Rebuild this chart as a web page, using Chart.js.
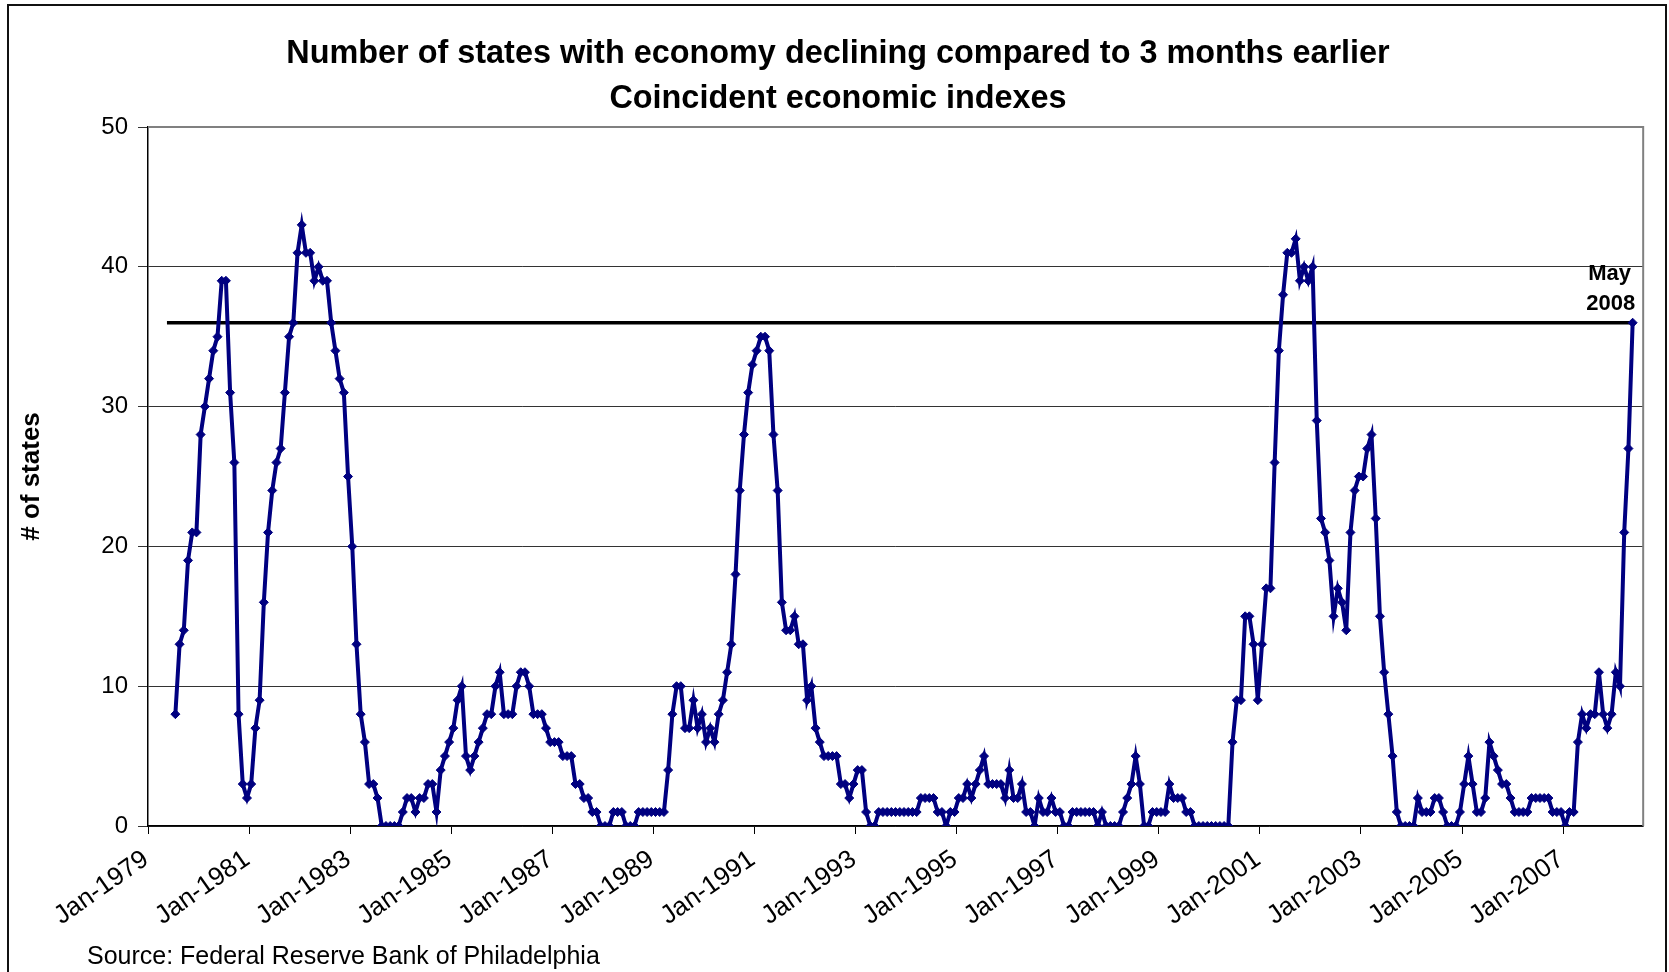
<!DOCTYPE html>
<html>
<head>
<meta charset="utf-8">
<script src="https://cdn.jsdelivr.net/npm/chart.js@4.4.1/dist/chart.umd.min.js"></script>
<style>
  html, body { margin: 0; padding: 0; background: #fff; width: 1669px; height: 972px; overflow: hidden; }
  #wrap { position: relative; width: 1669px; height: 972px; }
  #chart { position: absolute; left: 0; top: 0; }
  .frame { position: absolute; left: 7px; top: 4px; width: 1660px; height: 1000px;
           border: 2px solid #111; box-sizing: border-box; pointer-events: none; }
  .title { position: absolute; left: 0; top: 30px; width: 1676px; text-align: center;
           font: bold 32.4px "Liberation Sans", Arial, sans-serif; line-height: 45px; color: #000; }
  .source { position: absolute; left: 87px; top: 940px;
            font: 25px "Liberation Sans", Arial, sans-serif; line-height: 30px; color: #000; }
</style>
</head>
<body>
<div id="wrap">
  <canvas id="chart" width="1669" height="972"></canvas>
  <div class="title">Number of states with economy declining compared to 3 months earlier<br>Coincident economic indexes</div>
  <div class="source">Source: Federal Reserve Bank of Philadelphia</div>
  <div class="frame"></div>
</div>
<script>
// Monthly category axis: Jan-1979 through Jul-2008
const monthNames = ['Jan','Feb','Mar','Apr','May','Jun','Jul','Aug','Sep','Oct','Nov','Dec'];
const axisStartYear = 1979;
const axisMonthCount = 355;
const months = [];
for (let i = 0; i < axisMonthCount; i++) {
  months.push(monthNames[i % 12] + '-' + (axisStartYear + Math.floor(i / 12)));
}

// Labels shown under the axis (every two years)
const tickLabels = ['Jan-1979','Jan-1981','Jan-1983','Jan-1985','Jan-1987','Jan-1989','Jan-1991',
                    'Jan-1993','Jan-1995','Jan-1997','Jan-1999','Jan-2001','Jan-2003','Jan-2005','Jan-2007'];

// Number of states whose coincident index fell vs. 3 months earlier, Jul-1979 .. May-2008
const seriesStart = 'Jul-1979';
const statesDeclining = [
  8, 13, 14, 19, 21, 21,                          // 1979 (Jul-Dec)
  28, 30, 32, 34, 35, 39, 39, 31, 26, 8, 3, 2,    // 1980
  3, 7, 9, 16, 21, 24, 26, 27, 31, 35, 36, 41,    // 1981
  43, 41, 41, 39, 40, 39, 39, 36, 34, 32, 31, 25, // 1982
  20, 13, 8, 6, 3, 3, 2, 0, 0, 0, 0, 0,           // 1983
  1, 2, 2, 1, 2, 2, 3, 3, 1, 4, 5, 6,             // 1984
  7, 9, 10, 5, 4, 5, 6, 7, 8, 8, 10, 11,          // 1985
  8, 8, 8, 10, 11, 11, 10, 8, 8, 8, 7, 6,         // 1986
  6, 6, 5, 5, 5, 3, 3, 2, 2, 1, 1, 0,             // 1987
  0, 0, 1, 1, 1, 0, 0, 0, 1, 1, 1, 1,             // 1988
  1, 1, 1, 4, 8, 10, 10, 7, 7, 9, 7, 8,           // 1989
  6, 7, 6, 8, 9, 11, 13, 18, 24, 28, 31, 33,      // 1990
  34, 35, 35, 34, 28, 24, 16, 14, 14, 15, 13, 13, // 1991
  9, 10, 7, 6, 5, 5, 5, 5, 3, 3, 2, 3,            // 1992
  4, 4, 1, 0, 0, 1, 1, 1, 1, 1, 1, 1,             // 1993
  1, 1, 1, 2, 2, 2, 2, 1, 1, 0, 1, 1,             // 1994
  2, 2, 3, 2, 3, 4, 5, 3, 3, 3, 3, 2,             // 1995
  4, 2, 2, 3, 1, 1, 0, 2, 1, 1, 2, 1,             // 1996
  1, 0, 0, 1, 1, 1, 1, 1, 1, 0, 1, 0,             // 1997
  0, 0, 0, 1, 2, 3, 5, 3, 0, 0, 1, 1,             // 1998
  1, 1, 3, 2, 2, 2, 1, 1, 0, 0, 0, 0,             // 1999
  0, 0, 0, 0, 0, 6, 9, 9, 15, 15, 13, 9,          // 2000
  13, 17, 17, 26, 34, 38, 41, 41, 42, 39, 40, 39, // 2001
  40, 29, 22, 21, 19, 15, 17, 16, 14, 21, 24, 25, // 2002
  25, 27, 28, 22, 15, 11, 8, 5, 1, 0, 0, 0,       // 2003
  0, 2, 1, 1, 1, 2, 2, 1, 0, 0, 0, 1,             // 2004
  3, 5, 3, 1, 1, 2, 6, 5, 4, 3, 3, 2,             // 2005
  1, 1, 1, 1, 2, 2, 2, 2, 2, 1, 1, 1,             // 2006
  0, 1, 1, 6, 8, 7, 8, 8, 11, 8, 7, 8,            // 2007
  11, 10, 21, 27, 36                              // 2008 (Jan-May)
];

// Reference level: the latest reading, carried back across the chart
const levelLineStart = 'May-1979';

const startIdx = months.indexOf(seriesStart);
const seriesData = months.map((m, i) => {
  const k = i - startIdx;
  return (k >= 0 && k < statesDeclining.length) ? statesDeclining[k] : null;
});
const lastIdx = startIdx + statesDeclining.length - 1;
const latestValue = statesDeclining[statesDeclining.length - 1];
const levelStartIdx = months.indexOf(levelLineStart);
const levelData = months.map((m, i) => (i === levelStartIdx || i === lastIdx) ? latestValue : null);

const FONT = '"Liberation Sans", Arial, sans-serif';
Chart.defaults.font.family = FONT;
Chart.defaults.color = '#000';

// Grey frame on the top and right of the plot area
const plotFrame = {
  id: 'plotFrame',
  beforeDatasetsDraw(chart) {
    const { ctx, chartArea: a } = chart;
    ctx.save();
    ctx.strokeStyle = '#808080';
    ctx.lineWidth = 2;
    ctx.beginPath();
    ctx.moveTo(a.left, a.top);
    ctx.lineTo(a.right, a.top);
    ctx.lineTo(a.right, a.bottom);
    ctx.stroke();
    ctx.restore();
  }
};

// "May 2008" note above the latest point
const latestNote = {
  id: 'latestNote',
  afterDatasetsDraw(chart) {
    const meta = chart.getDatasetMeta(0);
    const pt = meta.data[lastIdx];
    if (!pt) return;
    const parts = months[lastIdx].split('-');
    const { ctx } = chart;
    ctx.save();
    ctx.font = 'bold 22px ' + FONT;
    ctx.fillStyle = '#000';
    ctx.textAlign = 'center';
    ctx.textBaseline = 'middle';
    ctx.fillText(parts[0], pt.x - 23, pt.y - 49);
    ctx.fillText(parts[1], pt.x - 22, pt.y - 19);
    ctx.restore();
  }
};

new Chart(document.getElementById('chart'), {
  type: 'line',
  data: {
    labels: months,
    datasets: [
      {
        data: seriesData,
        borderColor: '#000080',
        backgroundColor: '#000080',
        borderWidth: 4,
        pointStyle: 'rectRot',
        pointRadius: 4.5,
        pointBorderWidth: 1,
        pointBackgroundColor: '#000080',
        pointBorderColor: '#000080',
        tension: 0,
        spanGaps: false,
        order: 1
      },
      {
        data: levelData,
        borderColor: '#000',
        borderWidth: 3.5,
        pointRadius: 0,
        spanGaps: true,
        tension: 0,
        order: 2
      }
    ]
  },
  options: {
    responsive: false,
    animation: false,
    devicePixelRatio: 1,
    layout: { padding: { left: 0, top: 127, right: 24, bottom: 0 } },
    plugins: { legend: { display: false }, tooltip: { enabled: false } },
    scales: {
      x: {
        type: 'category',
        offset: true,
        grid: {
          display: true,
          offset: true,
          drawOnChartArea: false,
          drawTicks: true,
          tickLength: 8,
          color: c => (c.index % 24 === 0 ? '#000' : 'rgba(0,0,0,0)'),
          tickColor: c => (c.index % 24 === 0 ? '#000' : 'rgba(0,0,0,0)')
        },
        border: { display: true, color: '#000', width: 1.5 },
        ticks: {
          autoSkip: false,
          minRotation: 35,
          maxRotation: 35,
          padding: 10,
          labelOffset: -4,
          font: { size: 26 },
          color: '#000',
          callback: function (value, index) {
            const lab = this.getLabelForValue(value);
            return tickLabels.includes(lab) ? lab : '';
          }
        },
        afterFit(scale) { scale.height = 146; }
      },
      y: {
        min: 0,
        max: 50,
        grid: { color: '#333', lineWidth: 1, tickLength: 10, drawTicks: true },
        border: { display: true, color: '#000', width: 1.5 },
        ticks: { stepSize: 10, padding: 10, font: { size: 24 }, color: '#000' },
        title: {
          display: true,
          text: '# of states',
          font: { size: 26, weight: 'bold' },
          color: '#000',
          padding: { top: 16, bottom: 0 }
        },
        afterFit(scale) { scale.width = 148; }
      }
    }
  },
  plugins: [plotFrame, latestNote]
});
</script>
</body>
</html>
